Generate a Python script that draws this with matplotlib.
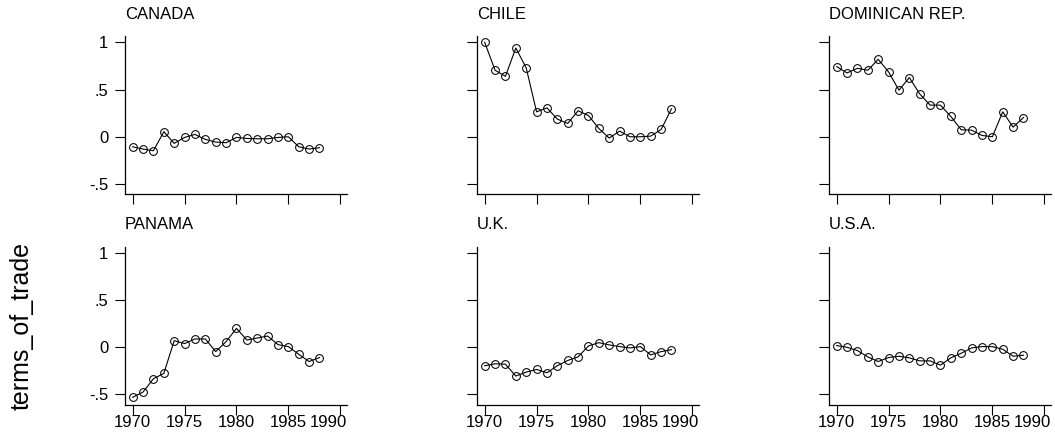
import matplotlib
matplotlib.use("Agg")
import matplotlib.pyplot as plt
from matplotlib.transforms import ScaledTranslation

plt.rcParams['font.family'] = ['Liberation Sans', 'DejaVu Sans']

years = list(range(1970, 1989))
countries = ["CANADA", "CHILE", "DOMINICAN REP.", "PANAMA", "U.K.", "U.S.A."]

canada = [-0.106, -0.13, -0.148, 0.053, -0.07, -0.007, 0.025, -0.028, -0.056, -0.063,
          -0.007, -0.018, -0.021, -0.021, -0.007, 0.0, -0.106, -0.13, -0.116]
chile = [1.0, 0.704, 0.64, 0.94, 0.73, 0.264, 0.306, 0.187, 0.141, 0.275,
         0.225, 0.088, -0.014, 0.06, 0.0, 0.0, 0.007, 0.077, 0.296]
dominican = [0.743, 0.676, 0.725, 0.704, 0.82, 0.687, 0.493, 0.627, 0.454, 0.335,
             0.335, 0.215, 0.074, 0.07, 0.014, 0.0, 0.264, 0.102, 0.204]
panama = [-0.53, -0.474, -0.333, -0.277, 0.07, 0.039, 0.088, 0.088, -0.046, 0.06,
          0.2, 0.077, 0.098, 0.119, 0.028, 0.007, -0.074, -0.151, -0.109]
uk = [-0.196, -0.175, -0.179, -0.305, -0.263, -0.235, -0.27, -0.196, -0.14, -0.102,
      0.014, 0.049, 0.025, 0.007, -0.007, 0.007, -0.081, -0.046, -0.025]
usa = [0.018, 0.0, -0.035, -0.102, -0.151, -0.109, -0.095, -0.112, -0.144, -0.144,
       -0.189, -0.112, -0.063, -0.007, 0.007, 0.007, -0.021, -0.095, -0.084]
series = [canada, chile, dominican, panama, uk, usa]

xticks = [1970, 1975, 1980, 1985, 1990]
xticklabels = ["1970", "1975", "1980", "1985", "1990"]
yticks = [-0.5, 0, 0.5, 1]
yticklabels = ["-.5", "0", ".5", "1"]
ylabel = "terms_of_trade"

W, H = 1055, 436
fig = plt.figure(figsize=(W / 100, H / 100), dpi=100)

col_left = [125, 477, 829]
col_w = 222
row_top = [36, 246.5]
row_h = 158

for i, (name, vals) in enumerate(zip(countries, series)):
    r, c = divmod(i, 3)
    l = col_left[c]
    t = row_top[r]
    ax = fig.add_axes([l / W, 1 - (t + row_h) / H, col_w / W, row_h / H])
    ax.plot(years, vals, color='black', lw=0.8, marker='o', ms=5.6,
            mfc='none', mec='black', mew=0.75)
    ax.set_xlim(1969.26, 1990.65)
    ax.set_ylim(-0.606, 1.067)
    for s in ['top', 'right']:
        ax.spines[s].set_visible(False)
    for s in ['left', 'bottom']:
        ax.spines[s].set_linewidth(0.9)
    ax.set_xticks(xticks)
    ax.set_yticks(yticks)
    if r == 1:
        ax.set_xticklabels(xticklabels)
    else:
        ax.set_xticklabels([])
    if c == 0:
        ax.set_yticklabels(yticklabels)
    else:
        ax.set_yticklabels([])
    ax.tick_params(axis='both', direction='out', length=7, width=0.8, labelsize=12)
    ax.tick_params(axis='x', pad=0.5)
    ax.tick_params(axis='y', pad=5)
    if r == 1:
        last = ax.get_xticklabels()[-1]
        last.set_transform(last.get_transform() +
                           ScaledTranslation(-12 / 100, 0, fig.dpi_scale_trans))
    ax.set_title(name, loc='left', fontsize=12, pad=12.5)

fig.text(22 / W, 1 - 326 / H, ylabel, rotation=90, fontsize=18,
         ha='center', va='center')

fig.savefig("out.png", dpi=100)
